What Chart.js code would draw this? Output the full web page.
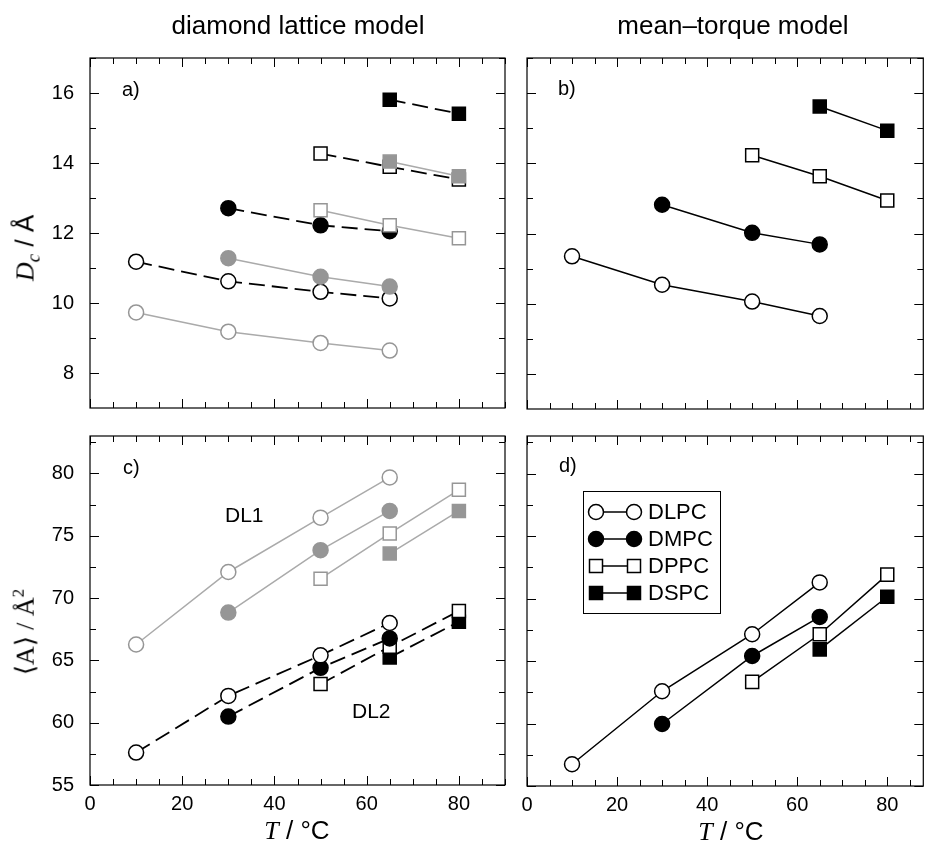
<!DOCTYPE html>
<html lang="en">
<head>
<meta charset="UTF-8">
<title>Dc and area per lipid vs temperature</title>
<script src="https://cdn.jsdelivr.net/npm/chart.js@4.4.1/dist/chart.umd.min.js"></script>
<style>
    body { margin: 0; background: #fff; }
    #fig { position: relative; width: 934px; height: 843px; font-family: "Liberation Sans", Arial, sans-serif; color: #000; overflow: hidden; }
    #fig canvas { position: absolute; left: 0; top: 0; }
    .txt { position: absolute; white-space: nowrap; line-height: 1; }
    .title { font-size: 26px; top: 12px; transform: translateX(-50%); }
    .rot { font-size: 26px; transform: translate(-50%, -50%) rotate(-90deg); }
    .xt { font-size: 26px; transform: translate(-50%, -50%); }
    .serif { font-family: "Liberation Serif", "Times New Roman", serif; }
    .lab { font-size: 20px; transform: translateY(-50%); }
    .dl { font-size: 21px; transform: translateY(-50%); }
</style>
</head>
<body>
<div id="fig">
    <canvas id="pa" width="934" height="843"></canvas>
    <canvas id="pb" width="934" height="843"></canvas>
    <canvas id="pc" width="934" height="843"></canvas>
    <canvas id="pd" width="934" height="843"></canvas>

    <div class="txt title" style="left:298px">diamond lattice model</div>
    <div class="txt title" style="left:733px">mean–torque model</div>

    <div class="txt rot" style="left:25px;top:248px"><i class="serif">D</i><i class="serif" style="font-size:19px;position:relative;top:6px">c</i> / Å</div>
    <div class="txt rot serif" style="left:24px;top:632px">⟨A⟩ / Å<sup style="font-size:17px">2</sup></div>

    <div class="txt xt" style="left:297px;top:830px"><i class="serif">T</i> / °C</div>
    <div class="txt xt" style="left:731px;top:831px"><i class="serif">T</i> / °C</div>

    <div class="txt lab" style="left:122px;top:89px">a)</div>
    <div class="txt lab" style="left:558px;top:88px">b)</div>
    <div class="txt lab" style="left:123px;top:467px">c)</div>
    <div class="txt lab" style="left:559px;top:465px">d)</div>

    <div class="txt dl" style="left:225px;top:514px">DL1</div>
    <div class="txt dl" style="left:352px;top:710px">DL2</div>
</div>

<script>
    // temperatures (°C) measured for each lipid
    const tDLPC = [10, 30, 50, 65];
    const tDMPC = [30, 50, 65];
    const tDPPC = [50, 65, 80];
    const tDSPC = [65, 80];

    // a) D_c, diamond lattice model, DL1 (grey) and DL2 (dashed)
    const dcDL1_DLPC = [9.73, 9.18, 8.86, 8.64];
    const dcDL1_DMPC = [11.28, 10.75, 10.47];
    const dcDL1_DPPC = [12.65, 12.22, 11.85];
    const dcDL1_DSPC = [14.04, 13.62];
    const dcDL2_DLPC = [11.18, 10.62, 10.32, 10.13];
    const dcDL2_DMPC = [12.71, 12.22, 12.05];
    const dcDL2_DPPC = [14.27, 13.89, 13.53];
    const dcDL2_DSPC = [15.81, 15.41];

    // b) D_c, mean-torque model
    const dcMT_DLPC = [11.35, 10.54, 10.06, 9.65];
    const dcMT_DMPC = [12.82, 12.02, 11.69];
    const dcMT_DPPC = [14.23, 13.63, 12.94];
    const dcMT_DSPC = [15.62, 14.93];

    // c) <A>, diamond lattice model
    const aDL1_DLPC = [66.27, 72.09, 76.45, 79.68];
    const aDL1_DMPC = [68.83, 73.84, 76.99];
    const aDL1_DPPC = [71.55, 75.18, 78.68];
    const aDL1_DSPC = [73.57, 76.99];
    const aDL2_DLPC = [57.6, 62.15, 65.4, 68.0];
    const aDL2_DMPC = [60.49, 64.4, 66.76];
    const aDL2_DPPC = [63.1, 66.1, 68.96];
    const aDL2_DSPC = [65.23, 68.1];

    // d) <A>, mean-torque model
    const aMT_DLPC = [56.74, 62.58, 67.14, 71.29];
    const aMT_DMPC = [59.96, 65.4, 68.53];
    const aMT_DPPC = [63.33, 67.14, 71.91];
    const aMT_DSPC = [65.93, 70.14];

    // tick labels
    const tempTicks = [0, 20, 40, 60, 80];
    const dcTicks = [8, 10, 12, 14, 16];
    const areaTicks = [55, 60, 65, 70, 75, 80];
    const lipidNames = ['DLPC', 'DMPC', 'DPPC', 'DSPC'];

    const GREY = '#969696';
    const GREYLINE = '#aaaaaa';

    // marker look per lipid: circle/rect, open/filled
    const shapes = {
        DLPC: { style: 'circle', filled: false },
        DMPC: { style: 'circle', filled: true },
        DPPC: { style: 'rect', filled: false },
        DSPC: { style: 'rect', filled: true }
    };

    function series(name, xs, ys, kind) {
        const sh = shapes[name];
        const col = kind === 'dl1' ? GREY : '#000';
        return {
            label: name,
            data: xs.map((x, i) => ({ x: x, y: ys[i] })),
            showLine: true,
            borderColor: kind === 'dl1' ? GREYLINE : '#000',
            borderWidth: kind === 'dl2' ? 1.8 : 1.5,
            borderDash: kind === 'dl2' ? [16, 7] : [],
            pointStyle: sh.style,
            pointRadius: sh.style === 'rect' ? 9.2 : 7.5,
            pointBackgroundColor: sh.filled ? col : '#fff',
            pointBorderColor: col,
            pointBorderWidth: 1.5,
            order: kind === 'dl1' ? 0 : 1
        };
    }

    // frame with inward ticks on all four sides
    const framePlugin = {
        id: 'frame',
        beforeDatasetsDraw(chart, args, opts) {
            const ctx = chart.ctx;
            const a = chart.chartArea;
            const xs = chart.scales.x, ys = chart.scales.y;
            ctx.save();
            ctx.strokeStyle = '#000';
            ctx.lineWidth = 1.2;
            ctx.strokeRect(a.left, a.top, a.right - a.left, a.bottom - a.top);
            ctx.lineWidth = 1;
            ctx.beginPath();
            for (let v = xs.min; v <= xs.max + 1e-9; v += opts.xMinor) {
                const len = Math.abs(v % opts.xMajor) < 1e-6 ? 9 : 6;
                const px = Math.round(xs.getPixelForValue(v)) + 0.5;
                ctx.moveTo(px, a.bottom); ctx.lineTo(px, a.bottom - len);
                ctx.moveTo(px, a.top); ctx.lineTo(px, a.top + len);
            }
            for (let v = opts.yStart; v <= ys.max + 1e-9; v += opts.yMinor) {
                const len = Math.abs((v - opts.yStart) % opts.yMajor) < 1e-6 ? 9 : 6;
                const py = Math.round(ys.getPixelForValue(v)) + 0.5;
                ctx.moveTo(a.left, py); ctx.lineTo(a.left + len, py);
                ctx.moveTo(a.right, py); ctx.lineTo(a.right - len, py);
            }
            ctx.stroke();
            ctx.restore();
        }
    };

    // boxed legend inside panel d
    const legendPlugin = {
        id: 'boxLegend',
        afterDraw(chart) {
            const ctx = chart.ctx;
            ctx.save();
            ctx.strokeStyle = '#000';
            ctx.lineWidth = 1;
            ctx.strokeRect(583.5, 491.5, 137, 122);
            ctx.font = '22px "Liberation Sans", Arial, sans-serif';
            ctx.textBaseline = 'middle';
            lipidNames.forEach((name, i) => {
                const y = 512 + i * 27;
                const sh = shapes[name];
                ctx.lineWidth = 1.5;
                ctx.beginPath();
                ctx.moveTo(596, y); ctx.lineTo(634, y);
                ctx.stroke();
                [596, 634].forEach(x => {
                    ctx.beginPath();
                    if (sh.style === 'circle') ctx.arc(x, y, 7.5, 0, Math.PI * 2);
                    else ctx.rect(x - 6.5, y - 6.5, 13, 13);
                    ctx.fillStyle = sh.filled ? '#000' : '#fff';
                    ctx.fill();
                    ctx.stroke();
                });
                ctx.fillStyle = '#000';
                ctx.fillText(name, 648, y + 1);
            });
            ctx.restore();
        }
    };

    function makePanel(id, box, xMax, yMin, yMax, yTicks, frameOpts, showX, showY, datasets, extra) {
        const tickFont = { family: '"Liberation Sans", Arial, sans-serif', size: 20 };
        return new Chart(document.getElementById(id), {
            type: 'scatter',
            data: { datasets: datasets },
            options: {
                responsive: false,
                animation: false,
                events: [],
                layout: {
                    padding: { left: box.L - 60, top: box.T, right: 934 - box.R, bottom: 843 - box.B - 40 }
                },
                plugins: { legend: { display: false }, tooltip: { enabled: false }, frame: frameOpts },
                scales: {
                    x: {
                        type: 'linear', min: 0, max: xMax,
                        grid: { display: false, drawTicks: false },
                        border: { display: false },
                        ticks: { display: showX, color: '#000', font: tickFont, padding: 7, maxRotation: 0 },
                        afterBuildTicks: s => { s.ticks = tempTicks.map(v => ({ value: v })); },
                        afterFit: s => { s.height = 40; }
                    },
                    y: {
                        type: 'linear', min: yMin, max: yMax,
                        grid: { display: false, drawTicks: false },
                        border: { display: false },
                        ticks: { display: showY, color: '#000', font: tickFont, padding: 16 },
                        afterBuildTicks: s => { s.ticks = yTicks.map(v => ({ value: v })); },
                        afterFit: s => { s.width = 60; }
                    }
                }
            },
            plugins: [framePlugin].concat(extra || [])
        });
    }

    const dcFrame = { xMajor: 20, xMinor: 5, yStart: 8, yMajor: 2, yMinor: 1 };
    const areaFrame = { xMajor: 20, xMinor: 5, yStart: 55, yMajor: 5, yMinor: 2.5 };

    makePanel('pa', { L: 90, T: 58, R: 505, B: 408 }, 90, 7, 17, dcTicks, dcFrame, false, true, [
        series('DLPC', tDLPC, dcDL1_DLPC, 'dl1'),
        series('DMPC', tDMPC, dcDL1_DMPC, 'dl1'),
        series('DPPC', tDPPC, dcDL1_DPPC, 'dl1'),
        series('DSPC', tDSPC, dcDL1_DSPC, 'dl1'),
        series('DLPC', tDLPC, dcDL2_DLPC, 'dl2'),
        series('DMPC', tDMPC, dcDL2_DMPC, 'dl2'),
        series('DPPC', tDPPC, dcDL2_DPPC, 'dl2'),
        series('DSPC', tDSPC, dcDL2_DSPC, 'dl2')
    ]);

    makePanel('pb', { L: 527, T: 58, R: 931, B: 409 }, 88, 7, 17, dcTicks, dcFrame, false, false, [
        series('DLPC', tDLPC, dcMT_DLPC, 'mt'),
        series('DMPC', tDMPC, dcMT_DMPC, 'mt'),
        series('DPPC', tDPPC, dcMT_DPPC, 'mt'),
        series('DSPC', tDSPC, dcMT_DSPC, 'mt')
    ]);

    makePanel('pc', { L: 90, T: 436, R: 505, B: 785 }, 90, 55, 83, areaTicks, areaFrame, true, true, [
        series('DLPC', tDLPC, aDL1_DLPC, 'dl1'),
        series('DMPC', tDMPC, aDL1_DMPC, 'dl1'),
        series('DPPC', tDPPC, aDL1_DPPC, 'dl1'),
        series('DSPC', tDSPC, aDL1_DSPC, 'dl1'),
        series('DLPC', tDLPC, aDL2_DLPC, 'dl2'),
        series('DMPC', tDMPC, aDL2_DMPC, 'dl2'),
        series('DPPC', tDPPC, aDL2_DPPC, 'dl2'),
        series('DSPC', tDSPC, aDL2_DSPC, 'dl2')
    ]);

    makePanel('pd', { L: 527, T: 436, R: 931, B: 786 }, 88, 55, 83, areaTicks, areaFrame, true, false, [
        series('DLPC', tDLPC, aMT_DLPC, 'mt'),
        series('DMPC', tDMPC, aMT_DMPC, 'mt'),
        series('DPPC', tDPPC, aMT_DPPC, 'mt'),
        series('DSPC', tDSPC, aMT_DSPC, 'mt')
    ], [legendPlugin]);
</script>
</body>
</html>
